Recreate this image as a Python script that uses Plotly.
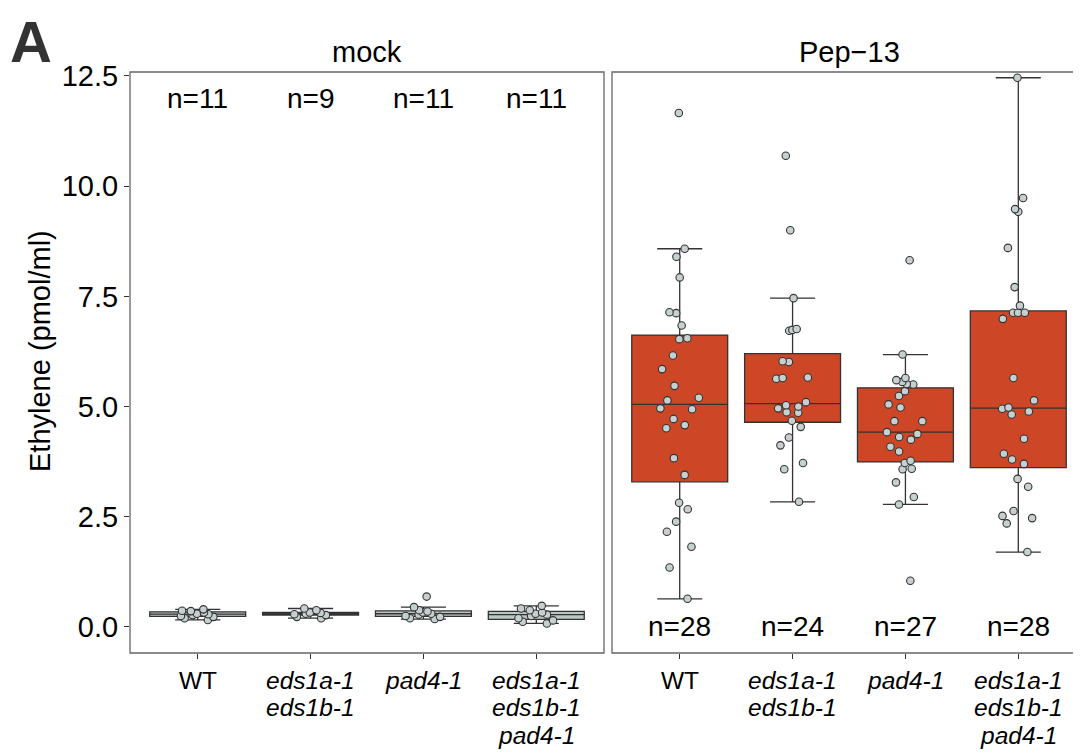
import numpy as np
import plotly.graph_objects as go

# ---------------- data ----------------
categories = ["WT", "eds1a-1 eds1b-1", "pad4-1", "eds1a-1 eds1b-1 pad4-1"]
tick_lines = [["WT"],
              ["eds1a-1", "eds1b-1"],
              ["pad4-1"],
              ["eds1a-1", "eds1b-1", "pad4-1"]]
tick_italic = [False, True, True, True]
treatments = ["mock", "Pep\u221213"]
y_ticks = [0.0, 2.5, 5.0, 7.5, 10.0, 12.5]

mock_wt = [0.16, 0.20, 0.23, 0.25, 0.27, 0.29, 0.30, 0.33, 0.36, 0.37, 0.40]
mock_eds = [0.20, 0.23, 0.27, 0.29, 0.30, 0.32, 0.33, 0.38, 0.42]
mock_pad4 = [0.18, 0.20, 0.23, 0.25, 0.28, 0.30, 0.33, 0.35, 0.38, 0.45, 0.69]
mock_triple = [0.08, 0.12, 0.15, 0.20, 0.25, 0.28, 0.30, 0.33, 0.38, 0.42, 0.48]

pep_wt = [11.66, 8.58, 8.40, 7.93, 7.12, 7.14, 6.84, 6.55, 6.53, 6.16, 5.85, 5.47,
          5.14, 5.20, 4.96, 4.94, 4.72, 4.58, 4.51, 3.83, 3.45, 2.82, 2.67, 2.39,
          2.16, 1.82, 1.35, 0.64]
pep_eds = [10.69, 9.00, 7.46, 6.76, 6.74, 6.72, 6.03, 6.01, 5.66, 5.63, 5.65, 5.10,
           5.03, 5.00, 4.96, 4.86, 4.87, 4.68, 4.54, 4.30, 4.12, 3.72, 3.58, 2.84]
pep_pad4 = [8.32, 6.18, 5.65, 5.60, 5.56, 5.51, 5.50, 5.35, 5.24, 5.05, 4.98, 4.67,
            4.67, 4.42, 4.38, 4.31, 4.25, 4.09, 3.98, 3.77, 3.72, 3.59, 3.58, 3.28,
            2.95, 2.78, 1.05]
pep_triple = [12.46, 9.73, 9.48, 9.42, 8.60, 7.71, 7.29, 7.13, 7.13, 7.13, 6.99, 5.65,
              5.14, 4.95, 4.89, 4.98, 4.82, 4.27, 3.93, 3.80, 3.70, 3.36, 3.18, 2.63,
              2.52, 2.47, 2.35, 1.70]

mock_groups = [mock_wt, mock_eds, mock_pad4, mock_triple]
pep_groups = [pep_wt, pep_eds, pep_pad4, pep_triple]

# ---------------- styling ----------------
OFF = 8                      # page body margin
W, H = 1081 - OFF, 753 - OFF
MOCK_FILL = "#bcc6c4"
PEP_FILL = "#cd4727"
PT_FILL = "#c6d0d0"
DARK = "#333333"
FONT = "Liberation Sans"


def stats(vals):
    v = np.asarray(vals, dtype=float)
    q1, med, q3 = np.percentile(v, [25, 50, 75])
    iqr = q3 - q1
    lo = v[v >= q1 - 1.5 * iqr].min()
    hi = v[v <= q3 + 1.5 * iqr].max()
    return q1, med, q3, lo, hi


fig = go.Figure()

panels = [(mock_groups, MOCK_FILL, "x", "y"), (pep_groups, PEP_FILL, "x2", "y2")]
for groups, fill, xa, ya in panels:
    for i, vals in enumerate(groups):
        pos = i + 1
        q1, med, q3, lo, hi = stats(vals)
        fig.add_trace(go.Box(
            x=[pos], q1=[q1], median=[med], q3=[q3],
            lowerfence=[lo], upperfence=[hi],
            width=0.85, whiskerwidth=0.47,
            fillcolor=fill, line=dict(color=DARK, width=1.3),
            boxpoints=False, showlegend=False, hoverinfo="skip",
            xaxis=xa, yaxis=ya))
        fig.add_trace(go.Box(
            x=[pos] * len(vals), y=vals,
            width=0.85, boxpoints="all", jitter=0.45, pointpos=0,
            fillcolor="rgba(0,0,0,0)", line=dict(color="rgba(0,0,0,0)", width=0),
            marker=dict(color=PT_FILL, size=7.5, line=dict(color=DARK, width=1.1)),
            showlegend=False, xaxis=xa, yaxis=ya))

# ---------------- layout ----------------
px_x = lambda p: (p - OFF) / W
px_y = lambda p: 1 - (p - OFF) / H

unit = (604 - 130) / 4.2
x2_right = 0.4 + (1081 - 612) / unit

y_dom = [px_y(653), px_y(72)]
y_range = [-0.59, 12.59]

axis_common = dict(showgrid=False, zeroline=False, showline=False, automargin=False,
                   ticks="outside", ticklen=5, tickwidth=1.1, tickcolor=DARK)

fig.update_layout(
    width=W, height=H,
    margin=dict(l=0, r=0, t=0, b=0, pad=0),
    paper_bgcolor="white", plot_bgcolor="white",
    font=dict(family=FONT, color="black"),
    boxmode="overlay",
    xaxis=dict(domain=[px_x(130), px_x(604)], range=[0.4, 4.6], anchor="y",
               tickvals=[1, 2, 3, 4], showticklabels=False, **axis_common),
    xaxis2=dict(domain=[px_x(612), 1.0], range=[0.4, x2_right], anchor="y2",
                tickvals=[1, 2, 3, 4], showticklabels=False, **axis_common),
    yaxis=dict(domain=y_dom, range=y_range, anchor="x",
               tickvals=y_ticks, ticktext=[f"{t:.1f}" for t in y_ticks],
               tickfont=dict(family=FONT, size=29, color="black"),
               **axis_common),
    yaxis2=dict(domain=y_dom, range=y_range, anchor="x2", automargin=False,
                showticklabels=False, showgrid=False, zeroline=False, ticks=""),
)

# panel borders
fig.add_shape(type="rect", xref="paper", yref="paper",
              x0=px_x(130), x1=px_x(604), y0=y_dom[0], y1=y_dom[1],
              line=dict(color="#666666", width=1.3), layer="above")
fig.add_shape(type="rect", xref="paper", yref="paper",
              x0=px_x(612), x1=1.02, y0=y_dom[0], y1=y_dom[1],
              line=dict(color="#666666", width=1.3), layer="above")

center = dict(xanchor="center", yanchor="middle", showarrow=False)

# x tick labels (multi-line, tight line spacing as in the reference)
line_centres = [680, 707.5, 735]
for xa in ["x", "x2"]:
    for i, lines in enumerate(tick_lines):
        for j, line in enumerate(lines):
            txt = f"<i>{line}</i>" if tick_italic[i] else line
            fig.add_annotation(text=txt, xref=xa, yref="paper",
                               x=i + 1, y=px_y(line_centres[j]),
                               font=dict(family=FONT, size=24.5, color="black"),
                               **center)

# strip titles
for name, cx in zip(treatments, [(130 + 604) / 2, 612 + 2.1 * unit]):
    fig.add_annotation(text=name, xref="paper", yref="paper",
                       x=px_x(cx), y=px_y(52),
                       font=dict(family=FONT, size=29, color="black"), **center)

# n labels
for groups, xa, ya, yv in [(mock_groups, "x", "y", 12.0), (pep_groups, "x2", "y2", 0.0)]:
    for i, vals in enumerate(groups):
        fig.add_annotation(text=f"n={len(vals)}", xref=xa, yref=ya,
                           x=i + 1, y=yv,
                           font=dict(family=FONT, size=28, color="black"), **center)

# y-axis title
fig.add_annotation(text="Ethylene (pmol/ml)", xref="paper", yref="paper",
                   x=px_x(40), y=px_y(351), textangle=-90,
                   font=dict(family=FONT, size=29, color="black"), **center)

# panel letter
fig.add_annotation(text="<b>A</b>", xref="paper", yref="paper",
                   x=px_x(31), y=1.0, xanchor="center", yanchor="top",
                   showarrow=False, borderpad=0,
                   font=dict(family=FONT, size=58, color="#333333"))

fig.write_html("out.html")
